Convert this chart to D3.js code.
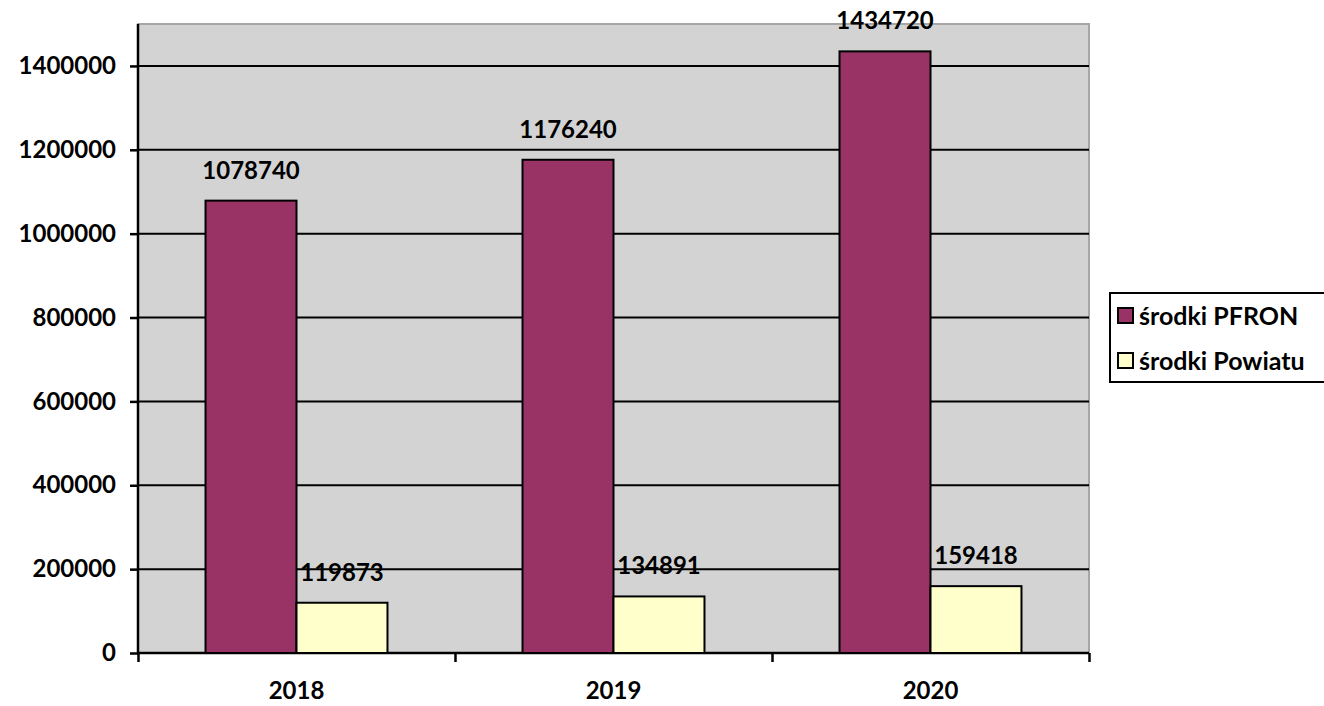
<!DOCTYPE html>
<html><head><meta charset="utf-8">
<script src="https://cdn.jsdelivr.net/npm/d3@7"></script>
<style>body{margin:0;background:#fff}svg{display:block}text{font-family:Lato,"Open Sans",sans-serif;font-weight:bold;fill:#000}</style>
</head><body><svg id="c" width="1324" height="706"></svg>
<script>
const categories = ["2018","2019","2020"];
const seriesNames = ["środki PFRON","środki Powiatu"];
const pfron = [1078740,1176240,1434720];
const powiat = [119873,134891,159418];
const yTicks = [0,200000,400000,600000,800000,1000000,1200000,1400000];
const colors = ["#993366","#ffffcc"];

const svg = d3.select("#c");
const L=138, R=1089, T=24, B=653;
const y = d3.scaleLinear().domain([0,1500000]).range([B,T]);
const x0 = d3.scaleBand().domain(categories).range([L,R]).paddingInner(0.426).paddingOuter(0.213);
const x1 = d3.scaleBand().domain(seriesNames).range([0,x0.bandwidth()]);

svg.append("rect").attr("x",L).attr("y",T).attr("width",R-L).attr("height",B-T).attr("fill","#d3d3d3").attr("stroke","#a6a6a6").attr("stroke-width",2);

svg.append("g").selectAll("line").data(yTicks.filter(d=>d>0)).join("line")
  .attr("x1",L).attr("x2",R).attr("y1",d=>y(d)).attr("y2",d=>y(d)).attr("stroke","#000").attr("stroke-width",2);

const ya = svg.append("g").attr("transform",`translate(${L},0)`).call(d3.axisLeft(y).tickValues(yTicks).tickSize(8).tickPadding(14).tickFormat(d3.format("d")));
ya.selectAll("path,line").attr("stroke","#000").attr("stroke-width",2.5);
ya.select(".domain").attr("d",`M0,${T}V${B}`);
ya.selectAll("text").style("font-size","24px").attr("font-family",null);

const xb = d3.scaleLinear().domain([0,categories.length]).range([L,R]);
const xa = svg.append("g").attr("transform",`translate(0,${B})`).call(d3.axisBottom(xb).tickValues(d3.range(categories.length+1)).tickSize(9).tickFormat(""));
xa.selectAll("path,line").attr("stroke","#000").attr("stroke-width",2.5);
xa.select(".domain").attr("d",`M${L},0H${R}`);
svg.append("g").selectAll("text").data(categories).join("text")
  .attr("x",d=>x0(d)+x0.bandwidth()/2).attr("y",699).attr("text-anchor","middle").style("font-size","24px").text(d=>d);

const data = categories.map((c,i)=>({c, vals:[pfron[i],powiat[i]]}));
const g = svg.append("g").selectAll("g").data(data).join("g").attr("transform",d=>`translate(${x0(d.c)},0)`);
g.selectAll("rect").data(d=>d.vals.map((v,j)=>({v,s:seriesNames[j],j}))).join("rect")
  .attr("x",d=>x1(d.s)).attr("width",x1.bandwidth()).attr("y",d=>y(d.v)).attr("height",d=>B-y(d.v))
  .attr("fill",d=>colors[d.j]).attr("stroke","#000").attr("stroke-width",2);
g.selectAll("text").data(d=>d.vals.map((v,j)=>({v,s:seriesNames[j],j}))).join("text")
  .attr("x",d=>x1(d.s)+x1.bandwidth()/2).attr("y",d=>y(d.v)-22).attr("text-anchor","middle").style("font-size","24px").text(d=>d.v);

const lg = svg.append("g");
lg.append("rect").attr("x",1110).attr("y",293).attr("width",230).attr("height",89).attr("fill","#fff").attr("stroke","#000").attr("stroke-width",2);
seriesNames.forEach((s,i)=>{
  const cy = 316 + i*45;
  lg.append("rect").attr("x",1118).attr("y",cy-8).attr("width",15).attr("height",15).attr("fill",colors[i]).attr("stroke","#000").attr("stroke-width",2);
  lg.append("text").attr("x",1139).attr("y",cy+9).style("font-size","25px").text(s);
});
</script></body></html>
